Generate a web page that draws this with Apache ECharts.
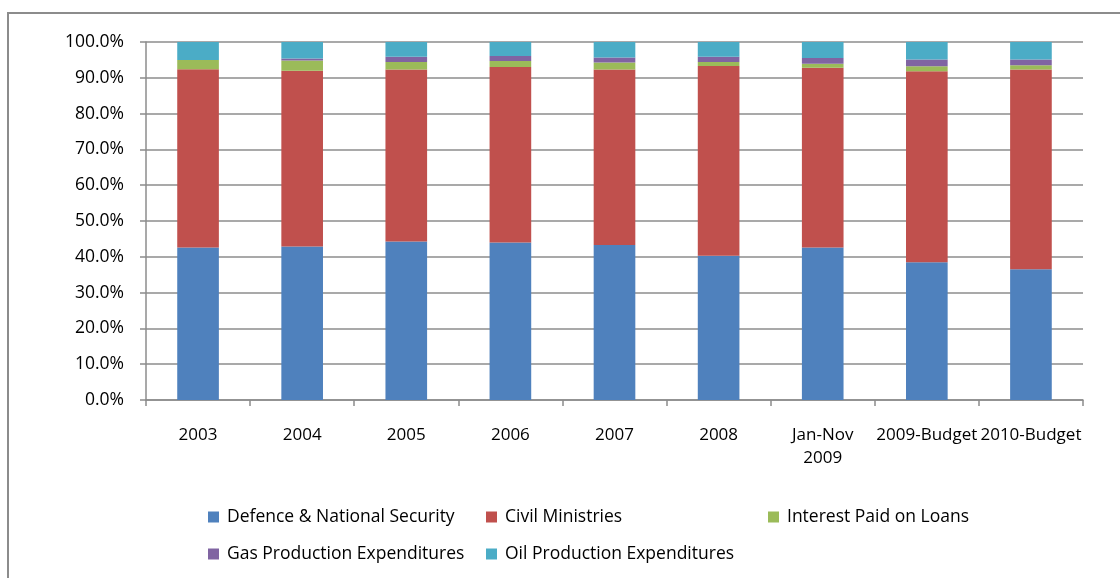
<!DOCTYPE html>
<html>
<head>
<meta charset="utf-8">
<script src="https://cdn.jsdelivr.net/npm/echarts@6/dist/echarts.min.js"></script>
<style>
html,body{margin:0;padding:0;background:#fff;}
#chart{width:1120px;height:578px;}
</style>
</head>
<body>
<div id="chart"></div>
<script>
const categories = ['2003','2004','2005','2006','2007','2008','Jan-Nov\n2009','2009-Budget','2010-Budget'];
const seriesNames = ['Defence & National Security','Civil Ministries','Interest Paid on Loans','Gas Production Expenditures','Oil Production Expenditures'];
const defence  = [42.6, 42.9, 44.3, 44.0, 43.3, 40.3, 42.6, 38.5, 36.5];
const civil    = [49.8, 49.1, 48.0, 49.0, 49.0, 53.0, 50.2, 53.3, 55.8];
const interest = [2.6, 2.8, 2.1, 1.7, 2.0, 1.1, 1.1, 1.4, 1.2];
const gas      = [0.0, 0.6, 1.5, 1.4, 1.4, 1.5, 1.6, 1.9, 1.6];
const oil      = [5.0, 4.6, 4.1, 3.9, 4.3, 4.1, 4.5, 4.9, 4.9];
const yTicks = [0,10,20,30,40,50,60,70,80,90,100];

const colors = ['#4F81BD','#C0504D','#9BBB59','#8064A2','#4BACC6'];
const allData = [defence, civil, interest, gas, oil];
const font = 'Open Sans';
const chart = echarts.init(document.getElementById('chart'));
const legendText = {fontFamily: font, fontSize: 17.5, color: '#000', padding:[0,0,0,3]};
chart.setOption({
  animation: false,
  color: colors,
  graphic: [{type:'rect', shape:{x:8, y:13, width:1200, height:700}, style:{fill:'none', stroke:'#8c8c8c', lineWidth:2}, silent:true}],
  grid: {left:146, right:37, top:42, bottom:178},
  legend: [
    {data:[seriesNames[0], seriesNames[3]], orient:'vertical', left:203, top:503, itemWidth:11, itemHeight:11, itemGap:19, textStyle:legendText, icon:'rect'},
    {data:[seriesNames[1], seriesNames[4]], orient:'vertical', left:481, top:503, itemWidth:11, itemHeight:11, itemGap:19, textStyle:legendText, icon:'rect'},
    {data:[seriesNames[2]], orient:'vertical', left:763, top:503, itemWidth:11, itemHeight:11, itemGap:19, textStyle:legendText, icon:'rect'}
  ],
  xAxis: {
    type:'category', data:categories, boundaryGap:true,
    axisLine:{lineStyle:{color:'#8c8c8c', width:1.5}},
    axisTick:{show:true, length:6, lineStyle:{color:'#8c8c8c', width:1.5}},
    axisLabel:{interval:0, margin:24, fontFamily:font, fontSize:17, color:'#000', lineHeight:23}
  },
  yAxis: {
    type:'value', min:yTicks[0], max:yTicks[yTicks.length-1], interval:10,
    axisLine:{show:true, lineStyle:{color:'#8c8c8c', width:1.5}},
    axisTick:{show:true, length:6, lineStyle:{color:'#8c8c8c', width:1.5}},
    splitLine:{lineStyle:{color:'#8c8c8c', width:1.5}},
    axisLabel:{formatter: v => v.toFixed(1)+'%', margin:22, fontFamily:font, fontSize:17.5, color:'#000'}
  },
  series: seriesNames.map((n,i)=>({
    name:n, type:'bar', stack:'total', data:allData[i], barWidth:'40%',
    itemStyle:{color:colors[i]}
  }))
});
</script>
</body>
</html>
